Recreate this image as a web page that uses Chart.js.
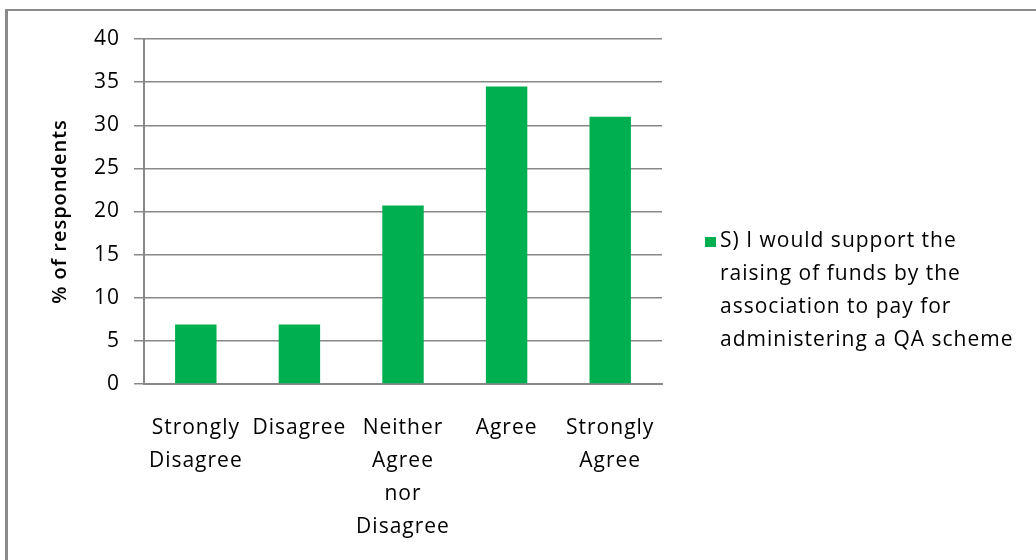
<!DOCTYPE html>
<html>
<head>
<meta charset="utf-8">
<script src="https://cdn.jsdelivr.net/npm/chart.js@4.4.0/dist/chart.umd.min.js"></script>
<style>
  html, body { margin: 0; padding: 0; background: #fff; overflow: hidden; }
  #marco {
    position: absolute; left: 5px; top: 9px; width: 1100px; height: 600px;
    border-left: 3px solid #8a8a8a; border-top: 2px solid #8a8a8a;
  }
  #grafico { position: absolute; left: 0; top: 0; }
</style>
</head>
<body>
<div id="marco"></div>
<canvas id="grafico" width="1036" height="560"></canvas>
<script>
// Respuestas de la encuesta (% de encuestados)
const categorias = [
  ['Strongly', 'Disagree'],
  'Disagree',
  ['Neither', 'Agree', 'nor', 'Disagree'],
  'Agree',
  ['Strongly', 'Agree']
];
const porcentajes = [6.9, 6.9, 20.7, 34.5, 31.0];
const etiquetaSerie = ['S) I would support the', 'raising of funds by the', 'association to pay for', 'administering a QA scheme'];
const ticksY = [0, 5, 10, 15, 20, 25, 30, 35, 40];

const verde = '#00b050';
const gris = '#888888';
const fuente = "'Open Sans', sans-serif";

// Un poco de espaciado entre letras para todos los textos del canvas
const espaciado = {
  id: 'espaciado',
  beforeDraw(chart) { chart.ctx.letterSpacing = '1px'; }
};

// Leyenda a la derecha con el texto en varias líneas
const leyendaMultilinea = {
  id: 'leyendaMultilinea',
  afterDraw(chart) {
    const ctx = chart.ctx;
    const area = chart.chartArea;
    const x = area.right + 43;
    const y0 = 241;
    const alto = 33;
    ctx.save();
    ctx.letterSpacing = '1px';
    ctx.fillStyle = verde;
    ctx.fillRect(x, y0 - 4, 11, 10);
    ctx.fillStyle = '#000';
    ctx.font = '21px ' + fuente;
    ctx.textBaseline = 'middle';
    etiquetaSerie.forEach((linea, i) => {
      ctx.fillText(linea, x + 15, y0 + i * alto);
    });
    ctx.restore();
  }
};

const ctx = document.getElementById('grafico').getContext('2d');
new Chart(ctx, {
  type: 'bar',
  data: {
    labels: categorias,
    datasets: [{
      label: etiquetaSerie.join(' '),
      data: porcentajes,
      backgroundColor: verde,
      borderWidth: 0,
      barPercentage: 0.4,
      categoryPercentage: 1.0
    }]
  },
  options: {
    responsive: false,
    animation: false,
    layout: { padding: { left: 48, top: 39, right: 374, bottom: 10 } },
    plugins: {
      legend: { display: false },
      tooltip: { enabled: false }
    },
    scales: {
      x: {
        grid: { display: false },
        border: { color: gris, width: 2 },
        ticks: {
          color: '#000',
          font: { family: fuente, size: 21, lineHeight: 1.58 },
          padding: 19,
          maxRotation: 0,
          autoSkip: false
        },
        afterFit(scale) { scale.height = 560 - 384 - 10; }
      },
      y: {
        min: 0,
        max: 40,
        afterBuildTicks(scale) { scale.ticks = ticksY.map(v => ({ value: v })); },
        grid: { color: gris, lineWidth: 1.5, tickLength: 10 },
        border: { color: gris, width: 2 },
        ticks: {
          color: '#000',
          font: { family: fuente, size: 21 },
          padding: 14
        },
        title: {
          display: true,
          text: '% of respondents',
          color: '#000',
          font: { family: fuente, size: 20, weight: '600' },
          padding: 0
        },
        afterFit(scale) { scale.width = 144 - 48; }
      }
    }
  },
  plugins: [espaciado, leyendaMultilinea]
});
</script>
</body>
</html>
